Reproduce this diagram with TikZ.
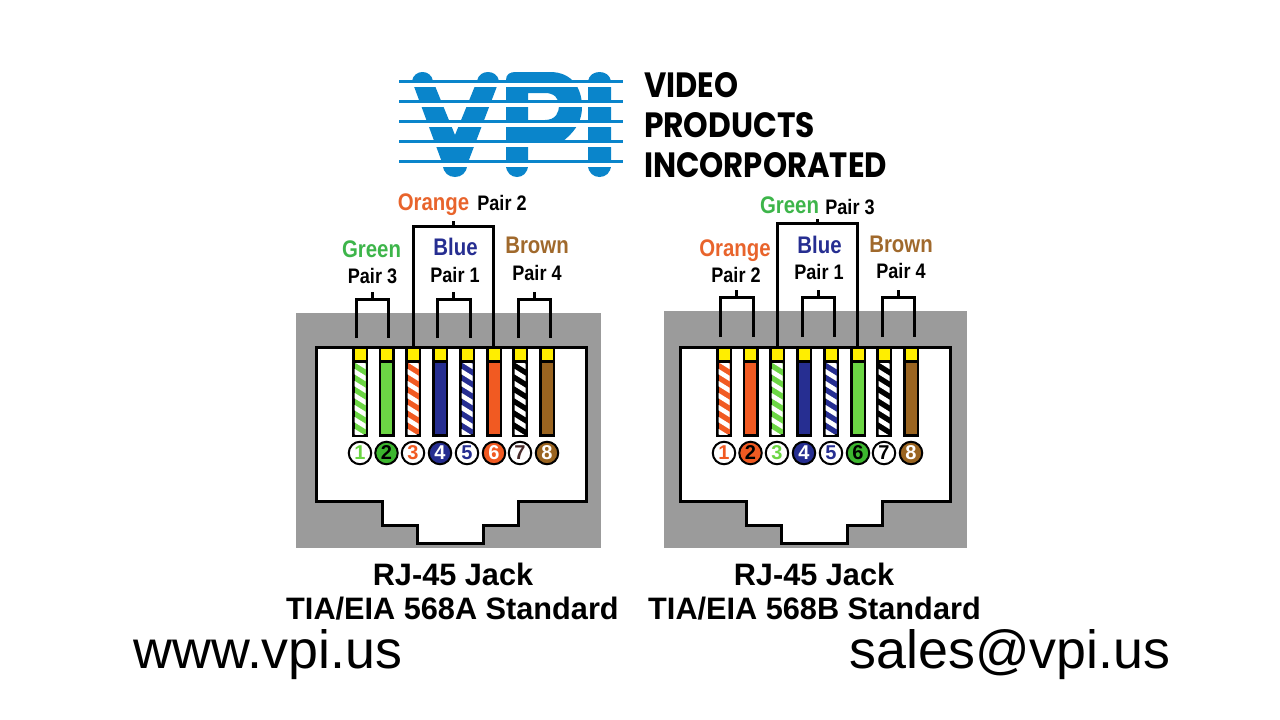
\documentclass[tikz,border=0pt]{standalone}
\usepackage{fontspec}
\setmainfont{Liberation Sans}
\newfontfamily\logofont{Poppins}
\usepackage{tikz}
\usetikzlibrary{calc}

\definecolor{vpiblue}{HTML}{0A85CB}
\definecolor{jackgray}{HTML}{9B9B9B}
\definecolor{pinyellow}{HTML}{FFEE00}
\definecolor{wgreen}{HTML}{6CD644}
\definecolor{worange}{HTML}{F15A22}
\definecolor{wblue}{HTML}{262E91}
\definecolor{wbrown}{HTML}{9A6420}
\definecolor{cgreen}{HTML}{3DB54A}
\definecolor{dgreen}{HTML}{3CB62E}
\definecolor{corange}{HTML}{E8642C}
\definecolor{cbrown}{HTML}{A0692C}
\definecolor{dseven}{HTML}{4A2C2C}

\tikzset{
  every node/.style={inner sep=0pt, outer sep=0pt},
  outline/.style={draw=black, line width=3pt, fill=white},
  bracket/.style={draw=black, line width=3pt},
  wireframe/.style={fill=black, minimum width=16pt, minimum height=90pt},
  wirebody/.style={minimum width=11pt, minimum height=71pt},
  pinhead/.style={fill=pinyellow, minimum width=11pt, minimum height=11pt},
  pincircle/.style={circle, draw=black, line width=2pt, minimum size=22.5pt, font=\fontsize{20}{20}\selectfont\bfseries},
  colorlabel/.style={anchor=base, font=\fontsize{24}{24}\selectfont\bfseries},
  pairlabel/.style={anchor=base, font=\fontsize{21}{21}\selectfont\bfseries},
  jacktitle/.style={anchor=base, font=\fontsize{31}{31}\selectfont\bfseries},
  weblabel/.style={anchor=base, font=\fontsize{53.8}{54}\selectfont},
  logotext/.style={anchor=base west, font=\logofont\bfseries}
}

% name, x, wire colour, striped, circle fill, digit colour, digit
\newcommand{\wirepin}[7]{
  \node[wireframe] (#1f) at (#2,392) {};
  \node[pinhead] (#1y) at (#2,354.5) {};
  \node[wirebody, fill=#3] (#1w) at (#2,398.5) {};
  \ifnum#4=1
    \begin{scope}
      \clip (#1w.north west) rectangle (#1w.south east);
      \foreach \s in {0,...,7}
        \draw[white, line width=4.6pt] (#2-8,358+12*\s) -- (#2+8,368+12*\s);
    \end{scope}
  \fi
  \node[pincircle, fill=#5, text=#6] (#1p) at (#2,453) {#7};
}

% name, left x, right x, top y, tip y, bottom y
\newcommand{\pairbrace}[6]{
  \coordinate (#1l) at (#2,#6);
  \coordinate (#1r) at (#3,#6);
  \coordinate (#1a) at (#2,#4);
  \coordinate (#1b) at (#3,#4);
  \coordinate (#1m) at ($(#1a)!.5!(#1b)$);
  \coordinate (#1t) at ($(#1m)+(0,#5-#4)$);
  \draw[bracket, miter limit=10] (#1l) -- (#1a) -- (#1b) -- (#1r);
  \draw[bracket] (#1m) -- (#1t);
}

\newcommand{\jackbody}[1]{
  \path[outline] (#1,347) -- (#1+270,347) -- (#1+270,501) -- (#1+202,501) -- (#1+202,525)
    -- (#1+167,525) -- (#1+167,543) -- (#1+101,543) -- (#1+101,525) -- (#1+66,525)
    -- (#1+66,501) -- (#1,501) -- cycle;
}

\begin{document}
\begin{tikzpicture}[x=1pt, y=-1pt]
\useasboundingbox (0,0) rectangle (1280,720);

% logo
\fill[vpiblue] (412,81) .. controls (414,69) and (431,69) .. (433,81) -- (455,135)
  -- (477,81) .. controls (479,69) and (497,69) .. (499,81) -- (467,165)
  .. controls (467,181) and (443,181) .. (443,165) -- cycle;
\fill[vpiblue, even odd rule] (506,80) .. controls (506,74) and (510,72) .. (516,72) -- (550,72)
  .. controls (572,72) and (582,88) .. (582,107) .. controls (582,124) and (572,134) .. (562,142)
  -- (528,142) -- (528,165) .. controls (528,181) and (506,181) .. (506,165) -- cycle
  (528,93) -- (528,120) -- (545,120) .. controls (556,120) and (559,112) .. (559,106)
  .. controls (559,98) and (554,93) .. (545,93) -- cycle;
\fill[vpiblue] (588,81) .. controls (590,69) and (609,69) .. (611,81) -- (611,165)
  .. controls (611,181) and (588,181) .. (588,165) -- cycle;
\foreach \ly in {81.5,101.5,121.5,141.5,161.5} {
  \fill[white] (399,\ly) rectangle (623,\ly+5);
  \draw[vpiblue, line width=2.6pt] (399,\ly) -- (623,\ly);
}
\node[logotext] (lvideo) at (644,97) {\resizebox{94pt}{25pt}{VIDEO}};
\node[logotext] (lproducts) at (644,137) {\resizebox{171pt}{25pt}{PRODUCTS}};
\node[logotext] (lincorp) at (644,177) {\resizebox{243pt}{25pt}{INCORPORATED}};

% left jack
\fill[jackgray] (296,313) rectangle (601,548);
\pairbrace{agreen}{356}{388}{299}{292}{338}
\pairbrace{ablue}{437}{470}{299}{292}{338}
\pairbrace{abrown}{518}{550}{299}{292}{338}
\jackbody{316}
\pairbrace{aorange}{413}{493}{226}{221}{347}
\wirepin{a1}{360}{wgreen}{1}{white}{wgreen}{1}
\wirepin{a2}{386.5}{wgreen}{0}{dgreen}{black}{2}
\wirepin{a3}{413}{worange}{1}{white}{worange}{3}
\wirepin{a4}{440}{wblue}{0}{wblue}{white}{4}
\wirepin{a5}{467}{wblue}{1}{white}{wblue}{5}
\wirepin{a6}{494}{worange}{0}{worange}{white}{6}
\wirepin{a7}{520}{black}{1}{white}{dseven}{7}
\wirepin{a8}{547}{wbrown}{0}{wbrown}{white}{8}

\node[colorlabel, text=corange] (aorangel) at (433.5,210) {\scalebox{.85}[1]{Orange}};
\node[pairlabel] (apairtwo) at (502,210) {\scalebox{.86}[1]{Pair 2}};
\node[colorlabel, text=cgreen] (agreenl) at (371.5,257) {\scalebox{.85}[1]{Green}};
\node[pairlabel] (apairthree) at (372.5,283) {\scalebox{.86}[1]{Pair 3}};
\node[colorlabel, text=wblue] (abluel) at (455.5,255) {\scalebox{.85}[1]{Blue}};
\node[pairlabel] (apairone) at (455,282) {\scalebox{.86}[1]{Pair 1}};
\node[colorlabel, text=cbrown] (abrownl) at (537,253) {\scalebox{.85}[1]{Brown}};
\node[pairlabel] (apairfour) at (537,280) {\scalebox{.86}[1]{Pair 4}};

% right jack
\fill[jackgray] (664,311) rectangle (967,548);
\pairbrace{borange}{720}{753}{297}{290}{337}
\pairbrace{bblue}{802}{834}{297}{290}{337}
\pairbrace{bbrown}{882}{914}{297}{290}{337}
\jackbody{680}
\pairbrace{bgreen}{777}{857}{223}{219}{347}
\wirepin{b1}{724}{worange}{1}{white}{worange}{1}
\wirepin{b2}{750.5}{worange}{0}{worange}{black}{2}
\wirepin{b3}{777}{wgreen}{1}{white}{wgreen}{3}
\wirepin{b4}{804}{wblue}{0}{wblue}{white}{4}
\wirepin{b5}{831}{wblue}{1}{white}{wblue}{5}
\wirepin{b6}{858}{wgreen}{0}{dgreen}{black}{6}
\wirepin{b7}{884}{black}{1}{white}{black}{7}
\wirepin{b8}{911}{wbrown}{0}{wbrown}{white}{8}

\node[colorlabel, text=cgreen] (bgreenl) at (789.5,213) {\scalebox{.85}[1]{Green}};
\node[pairlabel] (bpairthree) at (850,214) {\scalebox{.86}[1]{Pair 3}};
\node[colorlabel, text=corange] (borangel) at (735,256) {\scalebox{.85}[1]{Orange}};
\node[pairlabel] (bpairtwo) at (736,282) {\scalebox{.86}[1]{Pair 2}};
\node[colorlabel, text=wblue] (bbluel) at (819.5,253) {\scalebox{.85}[1]{Blue}};
\node[pairlabel] (bpairone) at (819,279) {\scalebox{.86}[1]{Pair 1}};
\node[colorlabel, text=cbrown] (bbrownl) at (901,252) {\scalebox{.85}[1]{Brown}};
\node[pairlabel] (bpairfour) at (901,278) {\scalebox{.86}[1]{Pair 4}};

% titles
\node[jacktitle] (atitle) at (453,585) {\scalebox{.99}[1]{RJ-45 Jack}};
\node[jacktitle] (asub) at (452.5,619) {\scalebox{.99}[1]{TIA/EIA 568A Standard}};
\node[jacktitle] (btitle) at (814,585) {\scalebox{.99}[1]{RJ-45 Jack}};
\node[jacktitle] (bsub) at (814.5,619) {\scalebox{.99}[1]{TIA/EIA 568B Standard}};
\node[weblabel] (web) at (268,668) {www.vpi.us};
\node[weblabel] (mail) at (1010,668) {sales@vpi.us};
\end{tikzpicture}
\end{document}
